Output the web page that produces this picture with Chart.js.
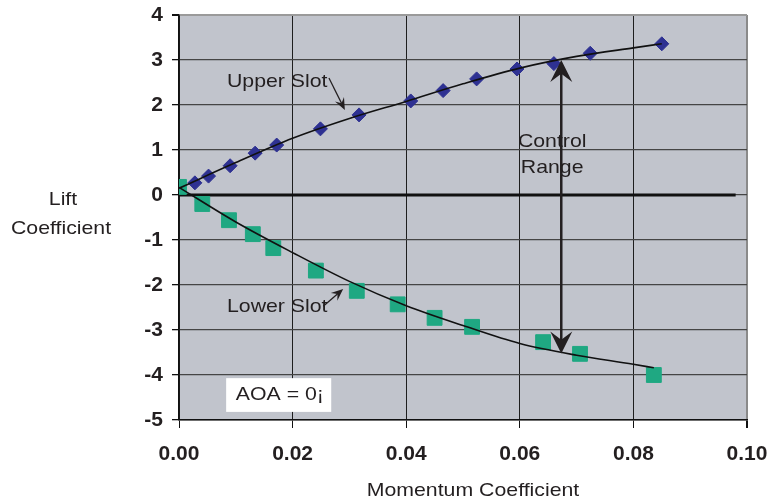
<!DOCTYPE html>
<html>
<head>
<meta charset="utf-8">
<script src="https://cdn.jsdelivr.net/npm/chart.js@4.4.0/dist/chart.umd.min.js"></script>
<style>
body { margin: 0; background: #ffffff; }
#wrap { width: 770px; height: 502px; }
</style>
</head>
<body>
<div id="wrap"><canvas id="chLift"></canvas></div>
<script>
// Values (momentum coefficient vs lift coefficient)
var upperX = [0.0028, 0.0052, 0.009, 0.0134, 0.0172, 0.0249, 0.0317, 0.0408, 0.0465, 0.0524, 0.0595, 0.066, 0.0724, 0.085];
var upperY = [0.27, 0.42, 0.65, 0.93, 1.11, 1.47, 1.78, 2.09, 2.32, 2.58, 2.80, 2.92, 3.15, 3.36];
var lowerX = [0, 0.0041, 0.0088, 0.013, 0.0166, 0.0241, 0.0313, 0.0385, 0.045, 0.0516, 0.0641, 0.0706, 0.0836];
var lowerY = [0.18, -0.2, -0.56, -0.87, -1.18, -1.68, -2.13, -2.43, -2.73, -2.93, -3.27, -3.53, -4.0];
// trend lines
var upperFitX = [0, 0.01, 0.02, 0.03, 0.04, 0.05, 0.06, 0.07, 0.08, 0.085];
var upperFitY = [0.15, 0.72, 1.26, 1.70, 2.08, 2.47, 2.82, 3.08, 3.27, 3.36];
var lowerFitX = [0, 0.01, 0.02, 0.03, 0.04, 0.05, 0.06, 0.07, 0.08, 0.0836];
var lowerFitY = [0.17, -0.6, -1.28, -1.92, -2.46, -2.9, -3.3, -3.56, -3.76, -3.84];
// the heavy zero line
var zeroX = [0, 0.098];
var zeroY = [0, 0];
// control range arrow (x, top, bottom)
var controlX = 0.0673;
var controlY = [3.0, -3.52];
// axis ticks
var xTicks = [0, 0.02, 0.04, 0.06, 0.08, 0.10];
var yTicks = [-5, -4, -3, -2, -1, 0, 1, 2, 3, 4];

function toPoints(xs, ys) {
	return xs.map(function (x, i) { return { x: x, y: ys[i] }; });
}

var INK = '#231f20';
var TXT_FONT = '19px "Liberation Sans", Arial, sans-serif';

//draws text a bit wider than normal, the original figure is stretched sideways
function wideText(ctx, txt, x, y, align) {
	ctx.save();
	ctx.translate(x, y);
	ctx.scale(1.12, 1);
	ctx.textAlign = align || 'left';
	ctx.textBaseline = 'middle';
	ctx.fillText(txt, 0, 0);
	ctx.restore();
}

//arrow head with a notched back, tip at (x2,y2)
function arrowHead(ctx, x1, y1, x2, y2, len, half) {
	var dx = x2 - x1, dy = y2 - y1;
	var d = Math.sqrt(dx * dx + dy * dy);
	var ux = dx / d, uy = dy / d;
	var px = -uy, py = ux;
	ctx.beginPath();
	ctx.moveTo(x2, y2);
	ctx.lineTo(x2 - ux * len + px * half, y2 - uy * len + py * half);
	ctx.lineTo(x2 - ux * len * 0.62, y2 - uy * len * 0.62);
	ctx.lineTo(x2 - ux * len - px * half, y2 - uy * len - py * half);
	ctx.closePath();
	ctx.fill();
}

function arrow(ctx, x1, y1, x2, y2, len, half, lw) {
	var dx = x2 - x1, dy = y2 - y1;
	var d = Math.sqrt(dx * dx + dy * dy);
	ctx.lineWidth = lw;
	ctx.beginPath();
	ctx.moveTo(x1, y1);
	ctx.lineTo(x2 - dx / d * len * 0.6, y2 - dy / d * len * 0.6);
	ctx.stroke();
	arrowHead(ctx, x1, y1, x2, y2, len, half);
}

// plot background + annotations
var decorations = {
	id: 'decorations',
	beforeDraw: function (chart) {
		var a = chart.chartArea, ctx = chart.ctx;
		ctx.save();
		ctx.fillStyle = '#c1c4cc';
		ctx.fillRect(a.left, a.top, a.right - a.left, a.bottom - a.top);
		ctx.restore();
	},
	afterDatasetsDraw: function (chart) {
		var ctx = chart.ctx;
		var sx = chart.scales.x, sy = chart.scales.y;
		var X = function (v) { return sx.getPixelForValue(v); };
		var Y = function (v) { return sy.getPixelForValue(v); };
		ctx.save();
		ctx.fillStyle = INK;
		ctx.strokeStyle = INK;
		ctx.font = TXT_FONT;

		// Control range double arrow
		var cx = X(controlX), top = Y(controlY[0]), bot = Y(controlY[1]);
		ctx.lineWidth = 2.5;
		ctx.beginPath();
		ctx.moveTo(cx, top + 12);
		ctx.lineTo(cx, bot - 12);
		ctx.stroke();
		arrowHead(ctx, cx, bot, cx, top, 22, 11);
		arrowHead(ctx, cx, top, cx, bot, 22, 11);
		wideText(ctx, 'Control', X(0.0657), Y(1.18), 'center');
		wideText(ctx, 'Range', X(0.0657), Y(0.6), 'center');

		// slot labels
		wideText(ctx, 'Upper Slot', X(0.00845), Y(2.51), 'left');
		arrow(ctx, X(0.0264), Y(2.6), X(0.0292), Y(1.89), 12, 5, 1.3);
		wideText(ctx, 'Lower Slot', X(0.00845), Y(-2.49), 'left');
		arrow(ctx, X(0.0254), Y(-2.47), X(0.0289), Y(-2.09), 12, 5, 1.3);

		// AOA box
		ctx.fillStyle = '#ffffff';
		ctx.fillRect(X(0.0083), Y(-4.07), X(0.0268) - X(0.0083), Y(-4.82) - Y(-4.07));
		ctx.fillStyle = INK;
		wideText(ctx, 'AOA = 0\u00a1', X(0.01), Y(-4.45), 'left');

		// axis titles
		wideText(ctx, 'Lift', 63, 200, 'center');
		wideText(ctx, 'Coefficient', 61, 229, 'center');
		wideText(ctx, 'Momentum Coefficient', 473, 491, 'center');
		ctx.restore();
	}
};

var tickFont = { family: '"Liberation Sans", Arial, sans-serif', size: 21, weight: 'bold' };

new Chart(document.getElementById('chLift'), {
	type: 'scatter',
	data: {
		datasets: [
			{
				label: 'Zero',
				data: toPoints(zeroX, zeroY),
				showLine: true,
				borderColor: '#111111',
				borderWidth: 3,
				pointRadius: 0,
				order: 4
			},
			{
				label: 'Upper Slot',
				data: toPoints(upperX, upperY),
				pointStyle: 'rectRot',
				pointRadius: 7,
				backgroundColor: '#2e3192',
				borderColor: '#2e3192',
				borderWidth: 1,
				order: 3
			},
			{
				label: 'Lower Slot',
				data: toPoints(lowerX, lowerY),
				pointStyle: 'rect',
				pointRadius: 10.5,
				backgroundColor: '#1fa882',
				borderColor: '#1fa882',
				borderWidth: 1,
				order: 3
			},
			{
				label: 'Upper fit',
				data: toPoints(upperFitX, upperFitY),
				showLine: true,
				cubicInterpolationMode: 'monotone',
				borderColor: '#111111',
				borderWidth: 1.6,
				pointRadius: 0,
				order: 1
			},
			{
				label: 'Lower fit',
				data: toPoints(lowerFitX, lowerFitY),
				showLine: true,
				cubicInterpolationMode: 'monotone',
				borderColor: '#111111',
				borderWidth: 1.6,
				pointRadius: 0,
				order: 1
			}
		]
	},
	options: {
		responsive: true,
		maintainAspectRatio: false,
		animation: false,
		layout: { padding: { left: 0, right: 23, top: 15, bottom: 0 } },
		plugins: {
			legend: { display: false },
			tooltip: { enabled: false }
		},
		scales: {
			x: {
				type: 'linear',
				min: 0,
				max: 0.1,
				afterBuildTicks: function (scale) { scale.ticks = xTicks.map(function (v) { return { value: v }; }); },
				afterFit: function (scale) { scale.height = 82; scale.paddingLeft = 0; scale.paddingRight = 0; },
				ticks: {
					color: INK,
					font: tickFont,
					padding: 14,
					maxRotation: 0,
					callback: function (v) { return Number(v).toFixed(2); }
				},
				grid: {
					color: function (c) { return c.tick && c.tick.value >= 0.1 ? '#8a8a8a' : '#1e1e1e'; },
					lineWidth: function (c) { return c.tick && c.tick.value >= 0.1 ? 2 : 1; },
					tickColor: '#111111',
					tickLength: 8
				},
				border: { color: '#111111', width: 1.5 }
			},
			y: {
				type: 'linear',
				min: -5,
				max: 4,
				afterBuildTicks: function (scale) { scale.ticks = yTicks.map(function (v) { return { value: v }; }); },
				// keep the plot box where the figure has it
				afterFit: function (scale) { scale.width = 179; scale.paddingTop = 0; scale.paddingBottom = 0; },
				ticks: {
					color: INK,
					font: tickFont,
					padding: 9
				},
				grid: {
					color: function (c) { return c.tick && c.tick.value >= 4 ? '#9a9a9a' : '#454545'; },
					lineWidth: function (c) { return c.tick && c.tick.value >= 4 ? 2 : 1.3; },
					tickColor: '#111111',
					tickLength: 7
				},
				border: { color: '#111111', width: 1.5 }
			}
		}
	},
	plugins: [decorations]
});
</script>
</body>
</html>
